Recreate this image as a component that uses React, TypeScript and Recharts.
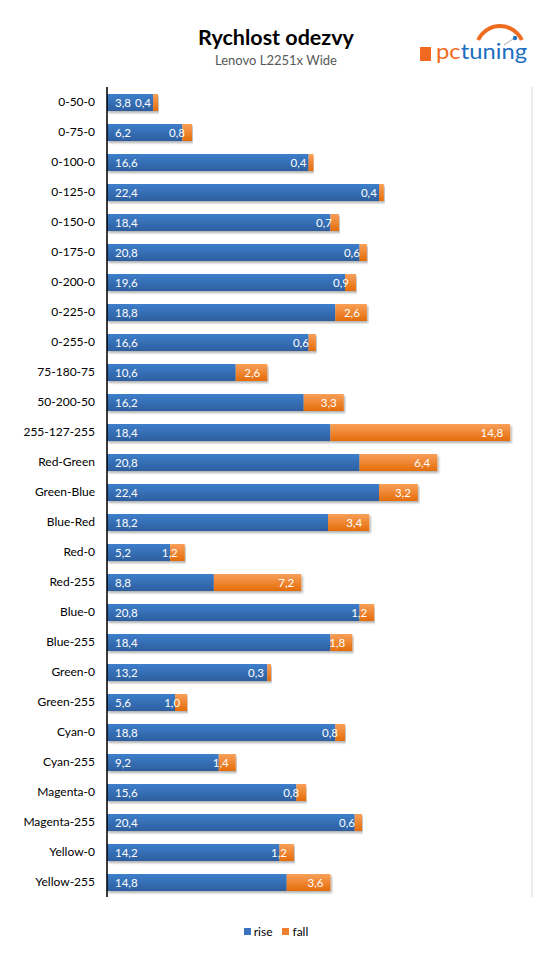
import { BarChart, Bar, XAxis, YAxis, CartesianGrid, LabelList, Legend } from 'recharts';

const categories = [
  '0-50-0', '0-75-0', '0-100-0', '0-125-0', '0-150-0', '0-175-0', '0-200-0', '0-225-0', '0-255-0',
  '75-180-75', '50-200-50', '255-127-255', 'Red-Green', 'Green-Blue', 'Blue-Red',
  'Red-0', 'Red-255', 'Blue-0', 'Blue-255', 'Green-0', 'Green-255',
  'Cyan-0', 'Cyan-255', 'Magenta-0', 'Magenta-255', 'Yellow-0', 'Yellow-255',
];
const rise = [3.8, 6.2, 16.6, 22.4, 18.4, 20.8, 19.6, 18.8, 16.6, 10.6, 16.2, 18.4, 20.8, 22.4, 18.2, 5.2, 8.8, 20.8, 18.4, 13.2, 5.6, 18.8, 9.2, 15.6, 20.4, 14.2, 14.8];
const fall = [0.4, 0.8, 0.4, 0.4, 0.7, 0.6, 0.9, 2.6, 0.6, 2.6, 3.3, 14.8, 6.4, 3.2, 3.4, 1.2, 7.2, 1.2, 1.8, 0.3, 1.0, 0.8, 1.4, 0.8, 0.6, 1.2, 3.6];
const xTicks = [0, 5, 10, 15, 20, 25, 30, 35];

const data = categories.map((name, i) => ({ name, rise: rise[i], fall: fall[i] }));

const FONT = 'Lato, "Open Sans", sans-serif';
const fmt = (v: number) => v.toFixed(1).replace('.', ',');

const LegendContent = () => (
  <div style={{ display: 'flex', justifyContent: 'center', alignItems: 'center', fontFamily: FONT, fontSize: 12, color: '#000' }}>
    <span style={{ width: 7, height: 7, background: '#3a74bf', display: 'inline-block', marginRight: 3 }} />
    <span style={{ marginRight: 10 }}>rise</span>
    <span style={{ width: 7, height: 7, background: '#ee7f2d', display: 'inline-block', marginRight: 3 }} />
    <span>fall</span>
  </div>
);

// pctuning logo, svg origin at page (410, 18)
const Logo = () => (
  <svg width={130} height={50} style={{ position: 'absolute', left: 410, top: 18 }}>
    <path d="M 68.2 22 A 24 24 0 0 1 111.8 22" fill="none" stroke="#ef6c1f" strokeWidth={4} />
    <line x1={94} y1={27} x2={103} y2={21} stroke="#aaa" strokeWidth={1} />
    <circle cx={105} cy={20} r={2.2} fill="#1f6fc0" />
    <rect x={10} y={29} width={11} height={14} fill="#f26a22" />
    <text x={26} y={41} fontFamily={FONT} fontSize={21} textLength={91} lengthAdjust="spacingAndGlyphs">
      <tspan fill="#f26a22">pc</tspan>
      <tspan fill="#1f6fc0">tuning</tspan>
    </text>
  </svg>
);

export default function App() {
  return (
    <div style={{ position: 'absolute', left: 0, top: 0, width: 552, height: 954, background: '#fff' }}>
      <div style={{ position: 'absolute', left: 0, top: 24, width: 552, textAlign: 'center' }}>
        <div style={{ fontFamily: FONT, fontWeight: 700, fontSize: 21.5, color: '#000', lineHeight: '26px' }}>Rychlost odezvy</div>
        <div style={{ fontFamily: FONT, fontSize: 13, color: '#595959', lineHeight: '16px', marginTop: 2 }}>Lenovo L2251x Wide</div>
      </div>
      <Logo />
      <BarChart
        width={552}
        height={954}
        data={data}
        layout="vertical"
        margin={{ top: 87, right: 20, bottom: 57, left: 0 }}
        barSize={17}
        style={{ position: 'absolute', left: 0, top: 0 }}
      >
        <defs>
          <linearGradient id="gRise" x1="0" y1="0" x2="0" y2="1">
            <stop offset="0%" stopColor="#3e7ecb" />
            <stop offset="100%" stopColor="#2d5f9f" />
          </linearGradient>
          <linearGradient id="gFall" x1="0" y1="0" x2="0" y2="1">
            <stop offset="0%" stopColor="#f9a059" />
            <stop offset="100%" stopColor="#e46c0a" />
          </linearGradient>
          <filter id="shadow" x="-5%" y="-20%" width="110%" height="160%">
            <feDropShadow dx={1.5} dy={2} stdDeviation={1} floodColor="#000" floodOpacity={0.3} />
          </filter>
        </defs>
        <CartesianGrid horizontal={false} stroke="#d9d9d9" />
        <XAxis type="number" domain={[0, 35]} ticks={xTicks} height={0} tick={false} axisLine={false} tickLine={false} />
        <YAxis
          type="category"
          dataKey="name"
          width={107}
          tickLine={false}
          tickSize={0}
          tickMargin={12}
          axisLine={{ stroke: '#000', strokeWidth: 1.5 }}
          tick={{ fill: '#000', fontSize: 12, fontFamily: FONT }}
          interval={0}
        />
        <Legend verticalAlign="middle" align="center" layout="horizontal" content={LegendContent}
          wrapperStyle={{ position: 'absolute', top: 924, left: 0, width: 552 }} />
        <Bar dataKey="rise" name="rise" stackId="a" fill="url(#gRise)" filter="url(#shadow)" isAnimationActive={false}>
          <LabelList dataKey="rise" position="insideLeft" offset={8} formatter={(v: any) => fmt(Number(v))}
            fill="#fff" fontSize={11.5} fontFamily={FONT} />
        </Bar>
        <Bar dataKey="fall" name="fall" stackId="a" fill="url(#gFall)" filter="url(#shadow)" isAnimationActive={false}>
          <LabelList dataKey="fall" position="insideRight" offset={7} formatter={(v: any) => fmt(Number(v))}
            fill="#fff" fontSize={11.5} fontFamily={FONT} />
        </Bar>
      </BarChart>
    </div>
  );
}
